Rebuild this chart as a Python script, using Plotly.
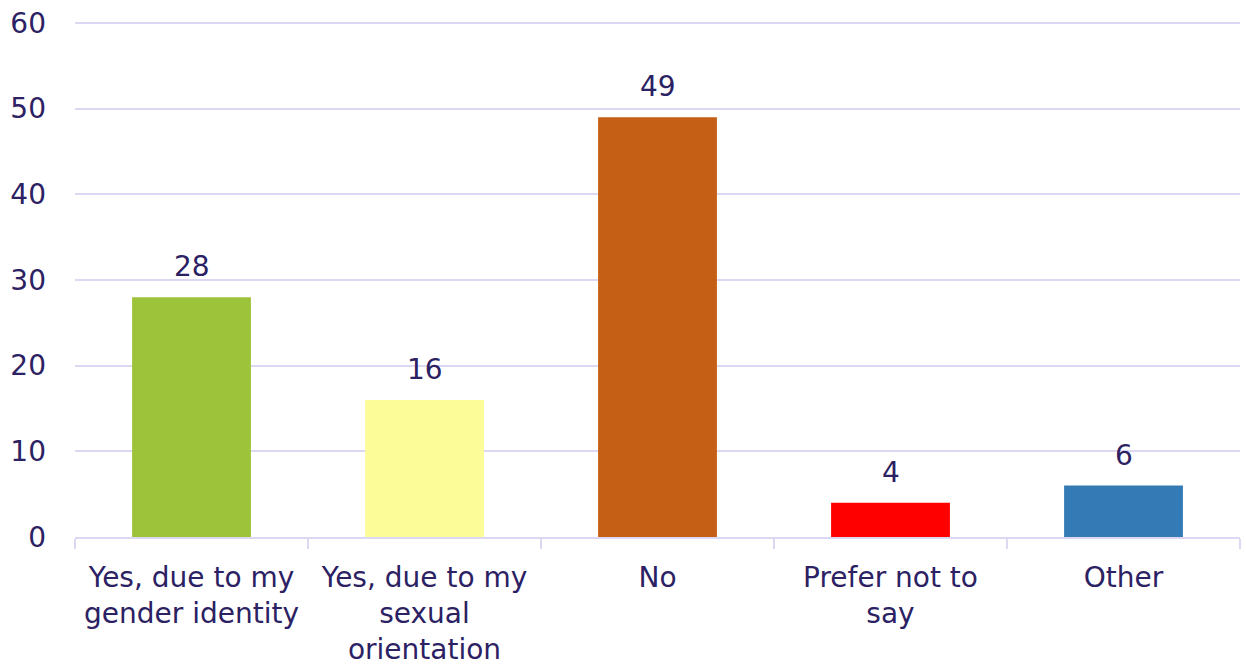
import plotly.graph_objects as go

categories = [
    "Yes, due to my<br>gender identity",
    "Yes, due to my<br>sexual<br>orientation",
    "No",
    "Prefer not to<br>say",
    "Other",
]
values = [28, 16, 49, 4, 6]
bar_colors = ["#9DC33B", "#FCFC99", "#C45F15", "#FF0000", "#347AB4"]
y_ticks = [0, 10, 20, 30, 40, 50, 60]

text_color = "#2B2163"
grid_color = "#DCD8F4"
font_family = "DejaVu Sans"
font_size = 28

fig = go.Figure(
    go.Bar(
        x=categories,
        y=values,
        marker=dict(color=bar_colors, line=dict(width=0)),
        hoverinfo="x+y",
    )
)

# value labels above each bar
for cat, val in zip(categories, values):
    fig.add_annotation(
        x=cat,
        y=val,
        text=str(val),
        showarrow=False,
        yanchor="bottom",
        yshift=12,
        font=dict(family=font_family, size=font_size, color=text_color),
    )

fig.update_layout(
    width=1246,
    height=671,
    margin=dict(l=75, r=6, t=20, b=134),
    paper_bgcolor="white",
    plot_bgcolor="white",
    bargap=0.49,
    showlegend=False,
    font=dict(family=font_family, size=font_size, color=text_color),
)

fig.update_xaxes(
    type="category",
    tickson="boundaries",
    ticks="outside",
    ticklen=10,
    tickcolor=grid_color,
    tickwidth=2,
    showline=True,
    linecolor=grid_color,
    linewidth=2,
    showgrid=False,
    ticklabelstandoff=14,
    tickfont=dict(family=font_family, size=font_size, color=text_color),
)

fig.update_yaxes(
    range=[0, 60.35],
    tickvals=y_ticks,
    showgrid=True,
    gridcolor=grid_color,
    gridwidth=2,
    zeroline=False,
    showline=False,
    ticks="",
    ticklabelstandoff=28,
    tickfont=dict(family=font_family, size=font_size, color=text_color),
)

fig.write_html("out.html")
